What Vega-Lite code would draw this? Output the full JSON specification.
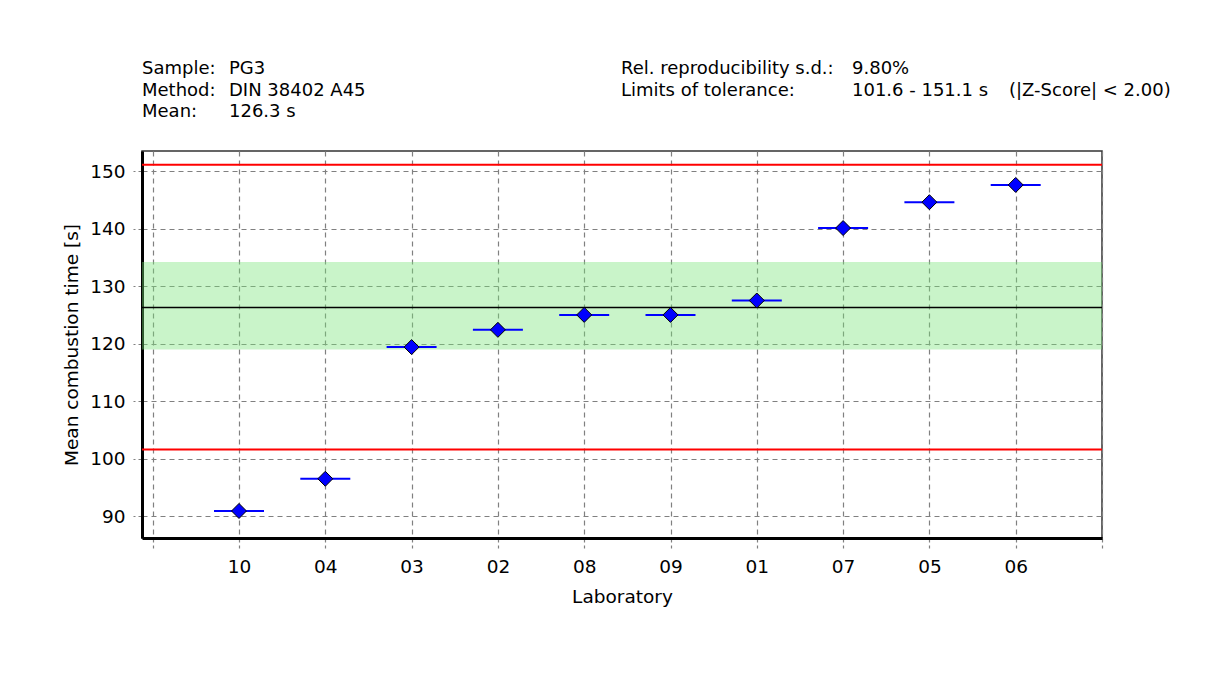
{
  "$schema": "https://vega.github.io/schema/vega-lite/v6.json",
  "background": "white",
  "padding": {"left": 61, "top": 60, "right": 0, "bottom": 0},
  "autosize": {"type": "pad"},
  "bounds": "flush",
  "spacing": 26,
  "config": {
    "font": "DejaVu Sans",
    "view": {"stroke": "#333333", "strokeWidth": 1.5},
    "title": {"anchor": "start", "frame": "group", "font": "DejaVu Sans", "fontSize": 18, "fontWeight": "normal", "color": "black", "lineHeight": 21.5, "offset": 0},
    "axis": {
      "labelFont": "DejaVu Sans", "labelFontSize": 18.5, "labelColor": "black",
      "titleFont": "DejaVu Sans", "titleFontSize": 18.5, "titleFontWeight": "normal", "titleColor": "black",
      "gridColor": "#808080", "gridDash": [5, 4], "gridWidth": 1.2, "gridOpacity": 1,
      "tickColor": "#808080", "tickDash": [4, 3], "tickWidth": 1.2,
      "domainColor": "black", "domainWidth": 3
    }
  },
  "datasets": {
    "labs": [
      {"lab": "10", "time": 90.9},
      {"lab": "04", "time": 96.5},
      {"lab": "03", "time": 119.4},
      {"lab": "02", "time": 122.4},
      {"lab": "08", "time": 125.0},
      {"lab": "09", "time": 125.0},
      {"lab": "01", "time": 127.5},
      {"lab": "07", "time": 140.1},
      {"lab": "05", "time": 144.6},
      {"lab": "06", "time": 147.6}
    ],
    "lines": [
      {"name": "Lower tolerance limit", "value": 101.6, "kind": "limit"},
      {"name": "Upper tolerance limit", "value": 151.1, "kind": "limit"},
      {"name": "Mean", "value": 126.3, "kind": "mean"}
    ],
    "band": [{"lo": 119.0, "hi": 134.2}]
  },
  "vconcat": [
    {
      "hconcat": [
        {"width": 87, "height": 1, "view": {"stroke": null}, "data": {"values": []}, "mark": "point", "encoding": {},
         "title": {"text": ["Sample:", "Method:", "Mean:"]}},
        {"width": 392, "height": 1, "view": {"stroke": null}, "data": {"values": []}, "mark": "point", "encoding": {},
         "title": {"text": ["PG3", "DIN 38402 A45", "126.3 s"]}},
        {"width": 231, "height": 1, "view": {"stroke": null}, "data": {"values": []}, "mark": "point", "encoding": {},
         "title": {"text": ["Rel. reproducibility s.d.:", "Limits of tolerance:", ""]}},
        {"width": 157, "height": 1, "view": {"stroke": null}, "data": {"values": []}, "mark": "point", "encoding": {},
         "title": {"text": ["9.80%", "101.6 - 151.1 s", ""]}},
        {"width": 100, "height": 1, "view": {"stroke": null}, "data": {"values": []}, "mark": "point", "encoding": {},
         "title": {"text": ["", "(|Z-Score| < 2.00)", ""]}}
      ],
      "spacing": 0,
      "bounds": "flush"
    },
    {
      "width": 960,
      "height": 387,
      "layer": [
        {
          "data": {"name": "band"},
          "mark": {"type": "rect", "fill": "#78e378", "opacity": 0.4},
          "encoding": {
            "y": {"field": "lo", "type": "quantitative",
                  "scale": {"domain": [86.2, 153.5], "nice": false, "zero": false},
                  "axis": {"values": [90, 100, 110, 120, 130, 140, 150], "title": "Mean combustion time [s]", "tickSize": 9, "labelPadding": 8, "titlePadding": 8}},
            "y2": {"field": "hi"}
          }
        },
        {
          "data": {"name": "lines"},
          "transform": [{"filter": "datum.kind == 'limit'"}],
          "mark": {"type": "rule", "color": "#ff0000", "strokeWidth": 2},
          "encoding": {"y": {"field": "value", "type": "quantitative"}}
        },
        {
          "data": {"name": "lines"},
          "transform": [{"filter": "datum.kind == 'mean'"}],
          "mark": {"type": "rule", "color": "black", "strokeWidth": 1.5},
          "encoding": {"y": {"field": "value", "type": "quantitative"}}
        },
        {
          "data": {"name": "labs"},
          "mark": {"type": "tick", "color": "#0000ff", "size": 50, "thickness": 2, "opacity": 1},
          "encoding": {
            "x": {"field": "lab", "type": "nominal",
                  "scale": {"type": "point", "domain": ["start", "10", "04", "03", "02", "08", "09", "01", "07", "05", "06", "end"], "padding": 0.062, "align": 1},
                  "axis": {"title": "Laboratory", "labelAngle": 0, "tickSize": 10, "labelPadding": 9, "titlePadding": 12, "grid": true,
                           "labelExpr": "datum.value == 'start' || datum.value == 'end' ? '' : datum.value"}},
            "y": {"field": "time", "type": "quantitative"}
          }
        },
        {
          "data": {"name": "labs"},
          "mark": {"type": "point", "shape": "diamond", "filled": true, "fill": "#0000ff", "stroke": "black", "strokeWidth": 1, "size": 225, "opacity": 1},
          "encoding": {
            "x": {"field": "lab", "type": "nominal"},
            "y": {"field": "time", "type": "quantitative"}
          }
        }
      ]
    }
  ]
}
